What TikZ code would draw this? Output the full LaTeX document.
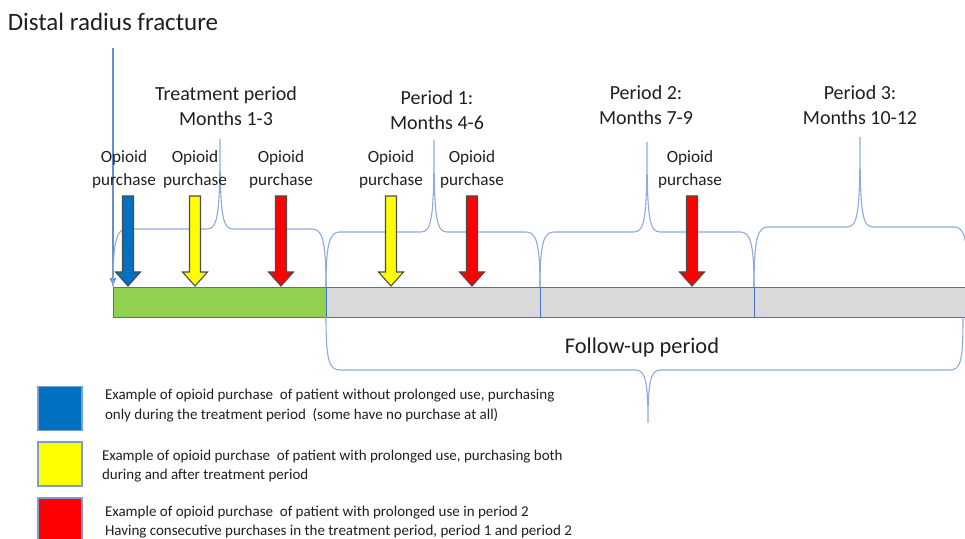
\documentclass[tikz,border=0pt]{standalone}
\usepackage{fontspec}
\setmainfont{Carlito}
\usetikzlibrary{arrows,positioning}
\definecolor{barblue}{HTML}{4472C4}
\definecolor{braceblue}{HTML}{8FAADC}
\definecolor{treatgreen}{HTML}{92D050}
\definecolor{followgrey}{HTML}{D9D9D9}
\definecolor{buyblue}{HTML}{0070C0}
\definecolor{buyyellow}{HTML}{FFFF00}
\definecolor{buyred}{HTML}{FF0000}
\definecolor{txt}{HTML}{1F1F1F}
\tikzset{every node/.append style={text=txt}}
\tikzset{cell/.style={draw=barblue, line width=0.6pt, minimum height=15pt, inner sep=0pt, anchor=north west},
  brace/.style={draw=braceblue, line width=0.55pt},
  fract/.style={draw=barblue!80, line width=0.55pt, -latex},
  purch/.style={draw=black!70, line width=0.55pt},
  period/.style={font=\fontsize{10}{12.5}\selectfont, align=center},
  buy/.style={font=\fontsize{8.6}{11.5}\selectfont, align=center},
  key/.style={draw=barblue!70, line width=0.6pt, minimum size=22pt, inner sep=0pt},
  legend/.style={font=\fontsize{7.5}{9.8}\selectfont, align=left, inner sep=0pt}}

\begin{document}
\begin{tikzpicture}[x=0.5pt,y=-0.5pt]
\clip (0,0) rectangle (965,539);
% time bar
\node[cell, fill=treatgreen, minimum width=106.5pt] (treat) at (113,287) {};
\node[cell, fill=followgrey, minimum width=107pt] (per1) at (326,287) {};
\node[cell, fill=followgrey, minimum width=107pt] (per2) at (540,287) {};
\node[cell, fill=followgrey, minimum width=107pt] (per3) at (754,287) {};
% fracture
\node[font=\fontsize{12.5}{15}\selectfont] (title) at (113,22) {Distal radius fracture};
\draw[fract] ([yshift=-5pt]title.south) -- (treat.north west);
% period labels
\node[period] (tlab) at (226,106) {Treatment period\\Months 1-3};
\node[period] (p1lab) at (437,110) {Period 1:\\Months 4-6};
\node[period] (p2lab) at (646,105) {Period 2:\\Months 7-9};
\node[period] (p3lab) at (860,105) {Period 3:\\Months 10-12};
% braces over the periods
\foreach \xa/\xt/\xb/\ym/\yt in {113/220/326/229/139, 326/434/540/232/140, 540/647/754/232/142, 754/860/968/227/137}
  \draw[brace] (\xa,287) .. controls (\xa,\ym+10) and (\xa+4,\ym) .. (\xa+14,\ym) -- (\xt-13,\ym)
    .. controls (\xt-2,\ym) and (\xt,\ym-15) .. (\xt,\yt)
    .. controls (\xt,\ym-15) and (\xt+2,\ym) .. (\xt+13,\ym) -- (\xb-14,\ym)
    .. controls (\xb-4,\ym) and (\xb,\ym+10) .. (\xb,287);
% follow-up brace
\draw[brace] (326,317) .. controls (326,360) and (329,370) .. (340,370) -- (636,370)
  .. controls (646,370) and (648,385) .. (648,423)
  .. controls (648,385) and (650,370) .. (660,370) -- (950,370)
  .. controls (961,370) and (963,360) .. (963,317);
\node[font=\fontsize{11.2}{13}\selectfont] (flab) at (642,348) {Follow-up period};
% opioid purchases
\foreach \x/\lx/\c [count=\i] in {128/124/buyblue, 195/195/buyyellow, 281/281/buyred, 391/391/buyyellow, 472/472/buyred, 692/690/buyred} {
  \node[buy] (lab\i) at (\lx,169) {Opioid\\purchase};
  \draw[purch, fill=\c] (\x-5.5,196) -- (\x+5.5,196) -- (\x+5.5,272) -- (\x+12.5,272) -- (\x,286)
    -- (\x-12.5,272) -- (\x-5.5,272) -- cycle;
}
% legend
\node[key, fill=buyblue] (kblue) at (60,408.5) {};
\node[key, fill=buyyellow] (kyel) at (60,464) {};
\node[key, fill=buyred] (kred) at (60,520) {};
\node[legend, right=11pt of kblue, yshift=1.5pt] (tblue) {Example of opioid purchase~ of patient without prolonged use, purchasing\\only during the treatment period~ (some have no purchase at all)};
\node[legend, right=9.5pt of kyel, yshift=-1pt] (tyel) {Example of opioid purchase~ of patient with prolonged use, purchasing both\\during and after treatment period};
\node[legend, right=11pt of kred, yshift=-1pt] (tred) {Example of opioid purchase~ of patient with prolonged use in period 2\\Having consecutive purchases in the treatment period, period 1 and period 2};
\end{tikzpicture}
\end{document}
